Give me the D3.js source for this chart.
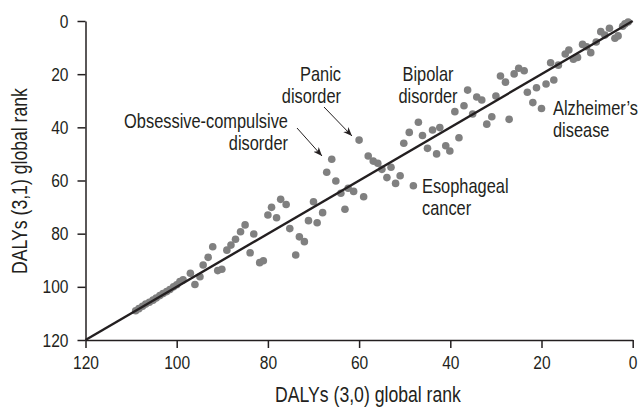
<!DOCTYPE html>
<html>
<head>
<meta charset="utf-8">
<script src="https://cdn.jsdelivr.net/npm/d3@7"></script>
<style>
  html, body { margin: 0; padding: 0; background: #fff; }
  svg { display: block; font-family: "Liberation Sans", Arial, sans-serif; }
</style>
</head>
<body>
<svg id="chart" width="643" height="409"></svg>
<script>
// DALYs (3,0) global rank (x) vs DALYs (3,1) global rank (y)
const rank30 = [109,108.3,107.5,106.8,106,105.2,104.5,103.7,103,102.2,101.5,100.7,100,99.3,98.6,
  97.0,96.0,94.9,94.2,93.1,92.1,91.0,90.1,89.0,88.1,87.1,86.0,85.0,83.9,83.1,81.8,81.0,
  80.0,79.2,78.1,77.2,76.0,75.2,73.9,73.1,72.0,71.1,70.0,69.2,68.0,67.1,66.0,65.1,64.0,62.4,61.2,63.1,59.0,
  60.0,58.0,56.9,55.9,55.0,53.0,53.9,51.0,52.0,48.1,
  50.2,49.0,47.0,46.1,45.0,43.9,42.3,43.0,41.0,40.1,38.1,39.0,37.0,36.2,35.1,34.2,33.1,
  30.0,30.9,32.0,27.1,29.0,27.9,26.0,25.0,23.8,23.1,21.1,19.0,17.3,21.9,20.0,18.0,16.3,
  14.8,14.0,13.0,12.1,11.0,10.1,9.2,8.0,7.0,6.1,5.1,3.9,3.2,2.2,1.7,1.0];
const rank31 = [109,108.2,107.3,106.5,105.8,105,104.2,103.3,102.5,101.8,101,100,99.2,98,97.4,
  94.9,99.1,96.2,91.8,88.9,84.9,93.9,93.4,86.2,84.3,82.1,79.3,76.7,87.2,80.1,90.9,90.2,
  73.0,70.1,74.0,67.1,69.0,78.1,88.0,81.2,83.0,75.1,68.0,75.9,72.1,56.9,52.0,60.2,64.8,62.9,64.1,70.8,66.1,
  44.8,50.8,52.7,53.5,55.8,55.0,58.9,58.2,61.1,62.0,
  46.0,41.9,38.1,43.1,47.9,41.0,40.1,50.0,46.9,48.9,43.9,34.1,31.9,26.0,35.0,28.6,29.7,
  28.2,36.0,38.8,37.0,20.7,23.0,19.9,17.8,18.7,26.8,25.1,23.7,22.2,30.7,32.9,15.7,16.6,
  12.4,10.9,14.4,13.7,8.8,9.7,11.9,7.9,4.0,5.3,2.7,6.5,5.6,2.0,1.1,0.4];
const tickValues = [0,20,40,60,80,100,120];
const lineEnds = [120, 0];
const labelLines = [
  ["Obsessive-compulsive", "disorder"],
  ["Panic", "disorder"],
  ["Bipolar", "disorder"],
  ["Alzheimer\u2019s", "disease"],
  ["Esophageal", "cancer"]
];
const xTitle = "DALYs (3,0) global rank";
const yTitle = "DALYs (3,1) global rank";

const svg = d3.select("#chart");
const ink = "#231f20";
const SX = 0.82; // condensed look
const x = d3.scaleLinear().domain([120, 0]).range([85.5, 632.7]);
const y = d3.scaleLinear().domain([0, 120]).range([21, 340]);

function condense(sel) {
  sel.each(function() {
    const t = d3.select(this);
    const tx = +t.attr("x") || 0, ty = +t.attr("y") || 0;
    t.attr("transform", `translate(${tx},${ty}) scale(${SX},1) translate(${-tx},${-ty})`);
  });
}

// axes
const xAxis = svg.append("g").attr("transform", "translate(0,340)")
  .call(d3.axisBottom(x).tickValues(tickValues).tickSize(8).tickSizeOuter(0).tickPadding(8));
const yAxis = svg.append("g").attr("transform", "translate(85.5,0)")
  .call(d3.axisLeft(y).tickValues(tickValues).tickSize(8).tickSizeOuter(0).tickPadding(9));
[xAxis, yAxis].forEach(g => {
  g.selectAll("path.domain").attr("stroke", ink).attr("stroke-width", 1.5);
  g.selectAll(".tick line").attr("stroke", ink).attr("stroke-width", 1.5);
  g.selectAll(".tick text").attr("fill", ink).style("font-size", "19px")
    .style("font-family", "'Liberation Sans', Arial, sans-serif").call(condense);
});

// points
svg.append("g").selectAll("circle").data(rank30.map((d, i) => [d, rank31[i]])).join("circle")
  .attr("cx", d => x(d[0])).attr("cy", d => y(d[1])).attr("r", 3.8)
  .attr("fill", "#808080");

// diagonal
svg.append("line")
  .attr("x1", x(lineEnds[0])).attr("y1", y(lineEnds[0]))
  .attr("x2", x(lineEnds[1])).attr("y2", y(lineEnds[1]))
  .attr("stroke", ink).attr("stroke-width", 2.4);

// arrow marker
svg.append("defs").append("marker").attr("id", "ah")
  .attr("viewBox", "0 0 10 10").attr("refX", 10).attr("refY", 5)
  .attr("markerWidth", 9).attr("markerHeight", 9).attr("markerUnits", "userSpaceOnUse")
  .attr("orient", "auto")
  .append("path").attr("d", "M0,1 L10,5 L0,9 L3,5 Z").attr("fill", ink);

const arrows = [[297, 128, 322, 156], [324, 107, 352, 136]];
svg.append("g").selectAll("line").data(arrows).join("line")
  .attr("x1", d => d[0]).attr("y1", d => d[1]).attr("x2", d => d[2]).attr("y2", d => d[3])
  .attr("stroke", ink).attr("stroke-width", 1).attr("marker-end", "url(#ah)");

// annotations
const labelPos = [
  {x: 288, y: 128, anchor: "end"},
  {x: 341, y: 81, anchor: "end"},
  {x: 428, y: 81, anchor: "middle"},
  {x: 553, y: 115, anchor: "start"},
  {x: 422, y: 193, anchor: "start"}
];
labelLines.forEach((lines, i) => {
  const p = labelPos[i];
  const t = svg.append("text").attr("x", p.x).attr("y", p.y)
    .attr("text-anchor", p.anchor).attr("fill", ink).style("font-size", "20px");
  lines.forEach((s, j) => t.append("tspan").attr("x", p.x).attr("dy", j === 0 ? 0 : 22.5).text(s));
  condense(t);
});

// axis titles
svg.append("text").attr("x", 368).attr("y", 402).attr("text-anchor", "middle")
  .attr("fill", ink).style("font-size", "21.5px").text(xTitle).call(condense);
svg.append("text").attr("transform", `translate(27,181) rotate(-90) scale(${SX},1)`).attr("text-anchor", "middle")
  .attr("fill", ink).style("font-size", "21.5px").text(yTitle);
</script>
</body>
</html>
